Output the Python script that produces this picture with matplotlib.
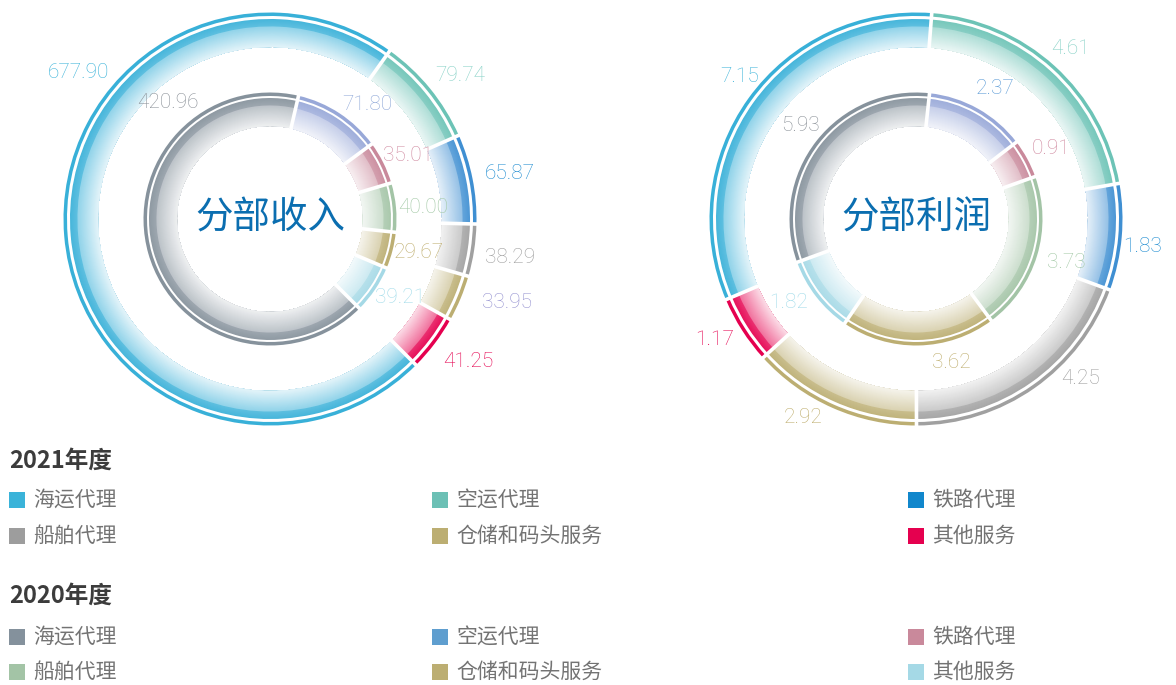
import numpy as np
import matplotlib
matplotlib.use("Agg")
import matplotlib.pyplot as plt
from matplotlib.patches import Wedge, Rectangle
from matplotlib.colors import to_rgb

plt.rcParams['font.family'] = ['Noto Sans CJK SC', 'DejaVu Sans']

# ---- data ----
categories = ['海运代理', '空运代理', '铁路代理', '船舶代理', '仓储和码头服务', '其他服务']
revenue_2021 = [677.90, 79.74, 65.87, 38.29, 33.95, 41.25]
revenue_2020 = [420.96, 71.80, 35.01, 40.00, 29.67, 39.21]
profit_2021 = [7.15, 4.61, 1.83, 4.25, 2.92, 1.17]
profit_2020 = [5.93, 2.37, 0.91, 3.73, 3.62, 1.82]

# legend colours
legend_2021 = ['#3ab3d9', '#6cc0b5', '#1187cc', '#9d9d9d', '#bcae72', '#e5004f']
legend_2020 = ['#84919c', '#5f9ecf', '#c9899b', '#a3c4a6', '#bcae72', '#a5d9e6']

# ring colours (as drawn in the donuts)
ring_2021 = ['#38b0d8', '#6cc3b6', '#3f8fd2', '#a0a0a0', '#bcae72', '#e5004f']
ring_2020 = ['#86929c', '#98a8d8', '#c9899b', '#a3c4a6', '#bcae72', '#a5d9e6']

# value-label colours
lab_2021 = ['#3ab3d9', '#86d1c6', '#1a8ad0', '#9d9d9d', '#9491d0', '#e5004f']
lab_2020 = ['#8a9097', '#8fa8d8', '#d08aa0', '#a3c9a6', '#bfae6e', '#a2dcea']
lab_2021_r = ['#3ab3d9', '#86d1c6', '#1a8ad0', '#9d9d9d', '#bfae6e', '#e5004f']
lab_2020_r = ['#8a9097', '#5a9ad6', '#d08aa0', '#a3c9a6', '#bfae6e', '#a2dcea']

# label positions (pixels)
pos_rev_2021 = [(78, 72), (460, 75), (510, 173), (510, 257), (507, 302), (468, 361)]
pos_rev_2020 = [(168, 102), (367, 104), (408, 155), (423, 207), (419, 252), (400, 297)]
pos_pro_2021 = [(740, 76), (1071, 48), (1143, 246), (1081, 378), (803, 417), (715, 339)]
pos_pro_2020 = [(800, 125), (995, 88), (1051, 148), (1066, 262), (951, 362), (789, 302)]


def mix_white(c, w):
    r, g, b = to_rgb(c)
    return (r + (1 - r) * w, g + (1 - g) * w, b + (1 - b) * w)


def draw_ring(ax, cx, cy, values, start, colors, r_out, r_band_out, r_band_in):
    total = float(sum(values))
    edges = start + np.concatenate([[0], np.cumsum(values)]) / total * 360.0
    n = 30
    for i, c in enumerate(colors):
        t1, t2 = edges[i] - 90, edges[i + 1] - 90
        # thin outer arc
        ax.add_patch(Wedge((cx, cy), r_out, t1, t2, width=3.5, facecolor=c,
                           edgecolor='none'))
        # gradient band: stacked wedges, outer to inner, each covering the rest
        rs = np.linspace(r_band_out, r_band_in, n + 1)
        for k in range(n):
            t = k / (n - 1)
            if t < 0.27:
                w = 0.08 + 0.12 * t / 0.27
            else:
                w = 0.45 + 0.40 * (t - 0.27) / 0.73
            col = mix_white(c, w)
            ax.add_patch(Wedge((cx, cy), rs[k], t1, t2, width=rs[k] - r_band_in,
                               facecolor=col, edgecolor='none'))
    for a in edges[:-1]:
        th = np.deg2rad(a - 90)
        r0, r1 = r_band_in - 2, r_out + 2
        ax.plot([cx + r0 * np.cos(th), cx + r1 * np.cos(th)],
                [cy + r0 * np.sin(th), cy + r1 * np.sin(th)],
                color='white', lw=2.6, solid_capstyle='butt')


def put_labels(ax, values, positions, colors):
    for v, (x, y), c in zip(values, positions, colors):
        ax.text(x, y, f'{v:.2f}', ha='center', va='center', fontsize=15,
                color=c, family=['Roboto', 'DejaVu Sans'], fontweight='light')


fig = plt.figure(figsize=(11.76, 6.85), dpi=100)
ax = fig.add_axes([0, 0, 1, 1])
ax.set_xlim(0, 1176)
ax.set_ylim(685, 0)
ax.axis('off')

# left: 分部收入
draw_ring(ax, 270, 219, revenue_2021, 135, ring_2021, 206.5, 200, 172)
draw_ring(ax, 270, 219, revenue_2020, 135, ring_2020, 126.5, 121, 93)
ax.text(270, 218, '分部收入', ha='center', va='center', fontsize=27, color='#0b6eb0')
put_labels(ax, revenue_2021, pos_rev_2021, lab_2021)
put_labels(ax, revenue_2020, pos_rev_2020, lab_2020)

# right: 分部利润
draw_ring(ax, 916, 219, profit_2021, 247, ring_2021, 206.5, 200, 172)
draw_ring(ax, 916, 219, profit_2020, 250, ring_2020, 126.5, 121, 93)
ax.text(916, 218, '分部利润', ha='center', va='center', fontsize=27, color='#0b6eb0')
put_labels(ax, profit_2021, pos_pro_2021, lab_2021_r)
put_labels(ax, profit_2020, pos_pro_2020, lab_2020_r)

# legend
col_x = [9, 432, 908]
rows_2021 = [500, 536]
rows_2020 = [637, 672]
ax.text(9, 461, '2021年度', ha='left', va='center', fontsize=17, fontweight='bold',
        color='#3c3c3c')
ax.text(9, 596, '2020年度', ha='left', va='center', fontsize=17, fontweight='bold',
        color='#3c3c3c')
for rows, cols in ((rows_2021, legend_2021), (rows_2020, legend_2020)):
    for i, (name, c) in enumerate(zip(categories, cols)):
        x = col_x[i % 3]
        y = rows[i // 3]
        ax.add_patch(Rectangle((x, y - 8.5), 16, 16, facecolor=c, edgecolor='none'))
        ax.text(x + 24, y, name, ha='left', va='center', fontsize=15, color='#737373')

fig.savefig('out.png', dpi=100)
